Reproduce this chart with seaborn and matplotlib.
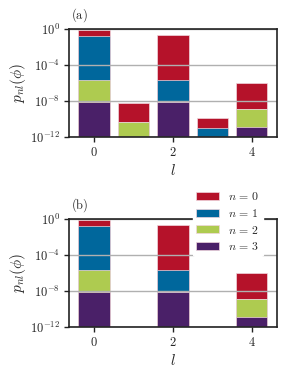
import numpy as np
import pandas as pd
import matplotlib
matplotlib.use("Agg")
import matplotlib.pyplot as plt
import seaborn as sns
from matplotlib.ticker import FuncFormatter, FixedLocator
from matplotlib.patches import Patch

sns.set_theme(style="white")
plt.rcParams['mathtext.fontset'] = 'cm'
plt.rcParams['font.family'] = ['DejaVu Serif']

# probabilities p_nl for each n (rows of l)
l_a = [0, 1, 2, 3, 4]
p_n0_a = [0.6, 5.4e-9, 0.2, 1.1e-10, 1.0e-6]
p_n1_a = [0.17, 0.0, 2.0e-6, 1.1e-11, 0.0]
p_n2_a = [2.0e-6, 4.7e-11, 0.0, 0.0, 1.4e-9]
p_n3_a = [8.0e-9, 0.0, 8.0e-9, 0.0, 1.4e-11]

l_b = [0, 2, 4]
p_n0_b = [0.6, 0.2, 1.1e-6]
p_n1_b = [0.17, 2.0e-6, 0.0]
p_n2_b = [2.0e-6, 0.0, 1.4e-9]
p_n3_b = [8.0e-9, 8.0e-9, 1.4e-11]

n_labels = [r'$n\,=\,0$', r'$n\,=\,1$', r'$n\,=\,2$', r'$n\,=\,3$']
colors = ['#b5122a', '#00679c', '#aecb50', '#4a2068']
panel_labels = [r'$\mathrm{(a)}$', r'$\mathrm{(b)}$']
xticks = [0, 2, 4]
yticks = [1e-12, 1e-8, 1e-4, 1e0]

fig = plt.figure(figsize=(2.87, 3.75), dpi=100)
ax_a = fig.add_axes([0.240, 0.6347, 0.725, 0.288])
ax_b = fig.add_axes([0.240, 0.128, 0.725, 0.288])

EDGE = '#f0d6de'

def draw(ax, ls, series, width):
    # stack (linear) from n=3 at bottom up to n=0 on top
    cum = np.zeros(len(ls))
    tops = {}
    for n in [3, 2, 1, 0]:
        cum = cum + np.array(series[n])
        tops[n] = cum.copy()
    for n in [0, 1, 2, 3]:
        vals = tops[n]
        df = pd.DataFrame({'l': ls, 'p': vals})
        sns.barplot(data=df, x='l', y='p', native_scale=True, color=colors[n],
                    saturation=1, width=width, edgecolor=EDGE, linewidth=0.5,
                    ax=ax, zorder=2)
    ax.set_yscale('log')
    ax.set_ylim(1e-12, 1e0)
    ax.set_xlim(-0.64, 4.64)
    ax.yaxis.set_major_locator(FixedLocator(yticks))
    ax.yaxis.set_minor_locator(FixedLocator([]))
    ax.yaxis.set_major_formatter(FuncFormatter(lambda v, p: r'$10^{%d}$' % int(round(np.log10(v)))))
    ax.set_xticks(xticks)
    ax.set_xticklabels([r'$%d$' % t for t in xticks])
    ax.grid(axis='y', color='#b0b0b0', linewidth=1.0, zorder=3)
    ax.set_axisbelow(False)
    for s in ax.spines.values():
        s.set_color('#222222')
        s.set_linewidth(1.2)
        s.set_zorder(4)
    ax.tick_params(axis='both', which='major', direction='out', length=3.5, width=1.0,
                   color='#222222', labelsize=9, pad=3, left=True, bottom=True)
    ax.set_xlabel(r'$l$', fontsize=11, labelpad=3)
    ax.set_ylabel(r'$p_{nl}(\phi)$', fontsize=11, labelpad=1)

draw(ax_a, l_a, [p_n0_a, p_n1_a, p_n2_a, p_n3_a], 0.8)
draw(ax_b, l_b, [p_n0_b, p_n1_b, p_n2_b, p_n3_b], 0.4)

for ax, lab in zip([ax_a, ax_b], panel_labels):
    ax.text(0.01, 1.05, lab, transform=ax.transAxes, ha='left', va='bottom', fontsize=9)

handles = [Patch(facecolor=c, edgecolor=EDGE, linewidth=0.5) for c in colors]
leg = fig.legend(handles, n_labels, loc='upper left', bbox_to_anchor=(0.674, 0.5),
                 borderaxespad=0, frameon=True, fontsize=8.5, handlelength=1.9,
                 handleheight=0.65, labelspacing=0.3, handletextpad=0.8, borderpad=0.25)
leg.get_frame().set_facecolor('white')
leg.get_frame().set_edgecolor('white')
leg.get_frame().set_alpha(1.0)
leg.set_zorder(10)

fig.savefig('out.png', dpi=100)
